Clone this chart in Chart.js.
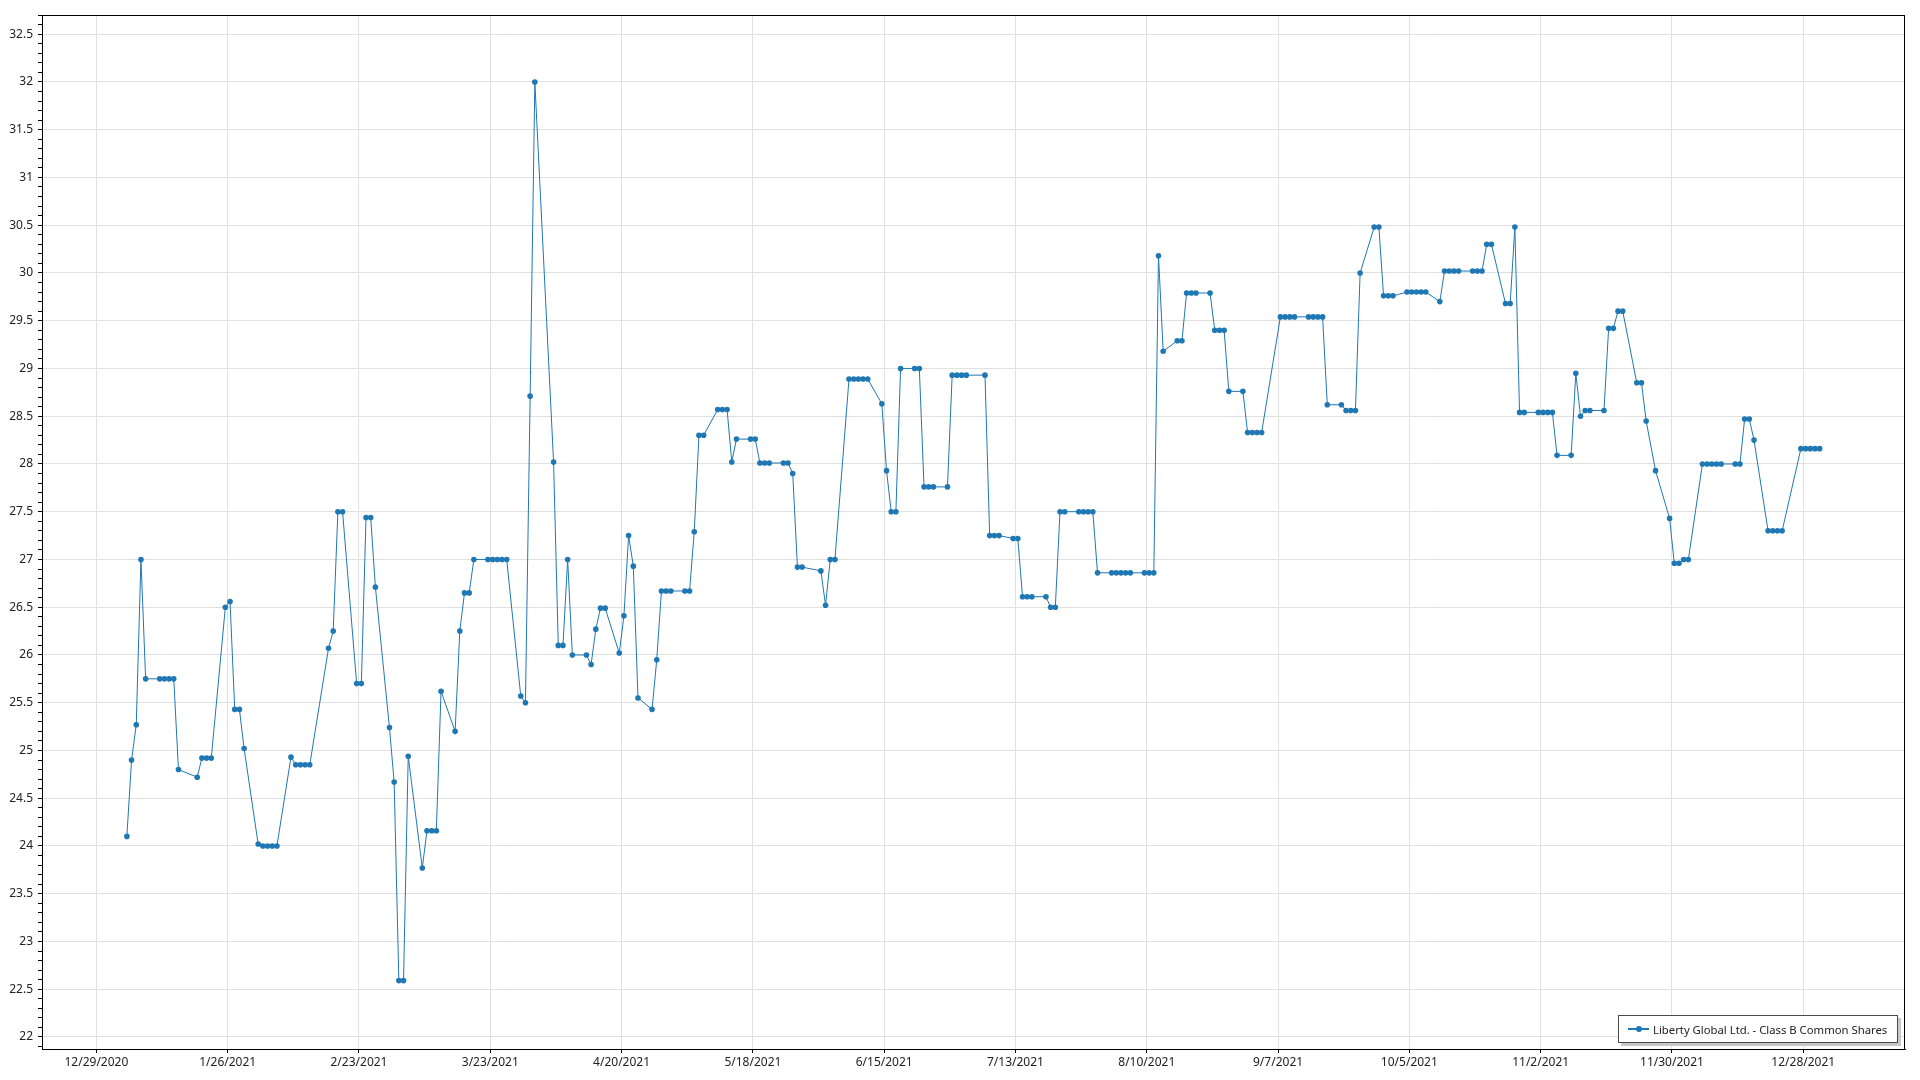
<html><head>
<meta charset="utf-8">
<style>
  body {
    margin: 0;
    background: #fff;
    font-family: "Noto Sans", "Open Sans", sans-serif;
  }
  .wrap {
    position: relative;
    width: 1920px;
    height: 1080px;
  }
  #legend {
    position: absolute;
    left: 1618px;
    top: 1015px;
    width: 278px;
    height: 26px;
    border: 1px solid #4a4a4a;
    background: #fff;
    box-shadow: 3px 3px 0 #c8c8c8;
    display: flex;
    align-items: center;
    font-size: 11.3px;
    color: #222;
    white-space: nowrap;
  }
  .sym {
    position: relative;
    width: 21px;
    height: 2px;
    margin-left: 9px;
    margin-right: 4px;
  }
  .sym .dot {
    position: absolute;
    left: 8px;
    top: -2px;
    width: 6px;
    height: 6px;
    border-radius: 50%;
  }
</style>
<script src="https://cdn.jsdelivr.net/npm/chart.js"></script>
</head>
<body>
<div class="wrap">
  <canvas id="chart" width="1920" height="1080"></canvas>
  <div id="legend"></div>
</div>

<script>
// Liberty Global Ltd. - Class B Common Shares, closing prices 2021
const year = 2021;
const dates = [
  '1/4','1/5','1/6','1/7','1/8','1/11','1/12','1/13','1/14','1/15','1/19','1/20','1/21','1/22','1/25','1/26','1/27','1/28','1/29',
  '2/1','2/2','2/3','2/4','2/5','2/8','2/9','2/10','2/11','2/12','2/16','2/17','2/18','2/19','2/22','2/23','2/24','2/25','2/26',
  '3/1','3/2','3/3','3/4','3/5','3/8','3/9','3/10','3/11','3/12','3/15','3/16','3/17','3/18','3/19','3/22','3/23','3/24','3/25','3/26','3/29','3/30','3/31',
  '4/1','4/5','4/6','4/7','4/8','4/9','4/12','4/13','4/14','4/15','4/16','4/19','4/20','4/21','4/22','4/23','4/26','4/27','4/28','4/29','4/30',
  '5/3','5/4','5/5','5/6','5/7','5/10','5/11','5/12','5/13','5/14','5/17','5/18','5/19','5/20','5/21','5/24','5/25','5/26','5/27','5/28',
  '6/1','6/2','6/3','6/4','6/7','6/8','6/9','6/10','6/11','6/14','6/15','6/16','6/17','6/18','6/21','6/22','6/23','6/24','6/25','6/28','6/29','6/30',
  '7/1','7/2','7/6','7/7','7/8','7/9','7/12','7/13','7/14','7/15','7/16','7/19','7/20','7/21','7/22','7/23','7/26','7/27','7/28','7/29','7/30',
  '8/2','8/3','8/4','8/5','8/6','8/9','8/10','8/11','8/12','8/13','8/16','8/17','8/18','8/19','8/20','8/23','8/24','8/25','8/26','8/27','8/30','8/31',
  '9/1','9/2','9/3','9/7','9/8','9/9','9/10','9/13','9/14','9/15','9/16','9/17','9/20','9/21','9/22','9/23','9/24','9/27','9/28','9/29','9/30',
  '10/1','10/4','10/5','10/6','10/7','10/8','10/11','10/12','10/13','10/14','10/15','10/18','10/19','10/20','10/21','10/22','10/25','10/26','10/27','10/28','10/29',
  '11/1','11/2','11/3','11/4','11/5','11/8','11/9','11/10','11/11','11/12','11/15','11/16','11/17','11/18','11/19','11/22','11/23','11/24','11/26','11/29','11/30',
  '12/1','12/2','12/3','12/6','12/7','12/8','12/9','12/10','12/13','12/14','12/15','12/16','12/17','12/20','12/21','12/22','12/23','12/27','12/28','12/29','12/30','12/31'
];
const prices = [
  24.10,24.90,25.27,27.00,25.75,25.75,25.75,25.75,25.75,24.80,24.72,24.92,24.92,24.92,26.50,26.56,25.43,25.43,25.02,
  24.02,24.00,24.00,24.00,24.00,24.93,24.85,24.85,24.85,24.85,26.07,26.25,27.50,27.50,25.70,25.70,27.44,27.44,26.71,
  25.24,24.67,22.59,22.59,24.94,23.77,24.16,24.16,24.16,25.62,25.20,26.25,26.65,26.65,27.00,27.00,27.00,27.00,27.00,27.00,25.57,25.50,28.71,
  32.00,28.02,26.10,26.10,27.00,26.00,26.00,25.90,26.27,26.49,26.49,26.02,26.41,27.25,26.93,25.55,25.43,25.95,26.67,26.67,26.67,
  26.67,26.67,27.29,28.30,28.30,28.57,28.57,28.57,28.02,28.26,28.26,28.26,28.01,28.01,28.01,28.01,28.01,27.90,26.92,26.92,
  26.88,26.52,27.00,27.00,28.89,28.89,28.89,28.89,28.89,28.63,27.93,27.50,27.50,29.00,29.00,29.00,27.76,27.76,27.76,27.76,28.93,28.93,
  28.93,28.93,28.93,27.25,27.25,27.25,27.22,27.22,26.61,26.61,26.61,26.61,26.50,26.50,27.50,27.50,27.50,27.50,27.50,27.50,26.86,
  26.86,26.86,26.86,26.86,26.86,26.86,26.86,26.86,30.18,29.18,29.29,29.29,29.79,29.79,29.79,29.79,29.40,29.40,29.40,28.76,28.76,28.33,
  28.33,28.33,28.33,29.54,29.54,29.54,29.54,29.54,29.54,29.54,29.54,28.62,28.62,28.56,28.56,28.56,30.00,30.48,30.48,29.76,29.76,
  29.76,29.80,29.80,29.80,29.80,29.80,29.70,30.02,30.02,30.02,30.02,30.02,30.02,30.02,30.30,30.30,29.68,29.68,30.48,28.54,28.54,
  28.54,28.54,28.54,28.54,28.09,28.09,28.95,28.50,28.56,28.56,28.56,29.42,29.42,29.60,29.60,28.85,28.85,28.45,27.93,27.43,26.96,
  26.96,27.00,27.00,28.00,28.00,28.00,28.00,28.00,28.00,28.00,28.47,28.47,28.25,27.30,27.30,27.30,27.30,28.16,28.16,28.16,28.16,28.16
];
const seriesName = 'Liberty Global Ltd. - Class B Common Shares';
const tickLabels = ['12/29/2020','1/26/2021','2/23/2021','3/23/2021','4/20/2021','5/18/2021','6/15/2021',
  '7/13/2021','8/10/2021','9/7/2021','10/5/2021','11/2/2021','11/30/2021','12/28/2021'];

const lineColor = '#1f77b4';
const font = { family: '"Noto Sans", "Open Sans", sans-serif', size: 12 };

// x axis is days since 12/29/2020; prices are stamped around midday
const origin = Date.UTC(2020, 11, 29);
const stampHour = 12;
function dayOf(m, d, y, h) {
  return (Date.UTC(y, m - 1, d, h || 0) - origin) / 86400000;
}
function parseLabel(s, h) {
  const p = s.split('/').map(Number);
  return dayOf(p[0], p[1], p.length > 2 ? p[2] : year, h);
}

const points = dates.map((s, i) => ({ x: parseLabel(s, stampHour), y: prices[i] }));
const tickDays = tickLabels.map(s => parseLabel(s));

const frame = {
  id: 'frame',
  afterDraw(chart) {
    const a = chart.chartArea;
    const c = chart.ctx;
    c.save();
    c.strokeStyle = '#000';
    c.lineWidth = 1;
    c.strokeRect(Math.round(a.left) + 0.5, Math.round(a.top) + 0.5,
      Math.round(a.right - a.left) - 1, Math.round(a.bottom - a.top));
    c.restore();
  }
};

const ctx = document.getElementById('chart').getContext('2d');
const chart = new Chart(ctx, {
  type: 'line',
  data: {
    datasets: [{
      label: seriesName,
      data: points,
      borderColor: lineColor,
      backgroundColor: lineColor,
      borderWidth: 1,
      pointRadius: 2.8,
      pointBorderWidth: 0,
      tension: 0
    }]
  },
  options: {
    responsive: false,
    animation: false,
    layout: { padding: { top: 15, right: 15, left: 0, bottom: 0 } },
    plugins: {
      legend: { display: false },
      tooltip: { enabled: false }
    },
    scales: {
      x: {
        type: 'linear',
        min: -11.6,
        max: 385.7,
        afterBuildTicks: s => { s.ticks = tickDays.map(v => ({ value: v })); },
        afterFit: s => { s.height = 31; },
        ticks: {
          autoSkip: false,
          maxRotation: 0,
          padding: 2,
          color: '#222',
          font: font,
          callback: v => tickLabels[tickDays.indexOf(v)]
        },
        grid: { color: '#e0e0e0', tickLength: 4, tickColor: '#000' },
        border: { color: '#000' }
      },
      y: {
        min: 21.874,
        max: 32.701,
        afterBuildTicks: s => {
          const t = [];
          for (let k = 219; k <= 327; k++) t.push({ value: k / 10 });
          s.ticks = t;
        },
        afterFit: s => { s.width = 42; },
        ticks: {
          autoSkip: false,
          padding: 5,
          color: '#222',
          font: font,
          callback: v => (Math.round(v * 10) % 5 === 0 ? String(Math.round(v * 10) / 10) : '')
        },
        grid: {
          color: c => (c.tick && Math.round(c.tick.value * 10) % 5 === 0 ? '#e0e0e0' : 'rgba(0,0,0,0)'),
          tickLength: 4,
          tickColor: '#000'
        },
        border: { color: '#000' }
      }
    }
  },
  plugins: [frame]
});

// legend box in the lower right corner
const legend = document.getElementById('legend');
chart.data.datasets.forEach(ds => {
  const sym = document.createElement('span');
  sym.className = 'sym';
  sym.style.background = ds.borderColor;
  const dot = document.createElement('span');
  dot.className = 'dot';
  dot.style.background = ds.borderColor;
  sym.appendChild(dot);
  const txt = document.createElement('span');
  txt.textContent = ds.label;
  legend.appendChild(sym);
  legend.appendChild(txt);
});
</script>
</body></html>
